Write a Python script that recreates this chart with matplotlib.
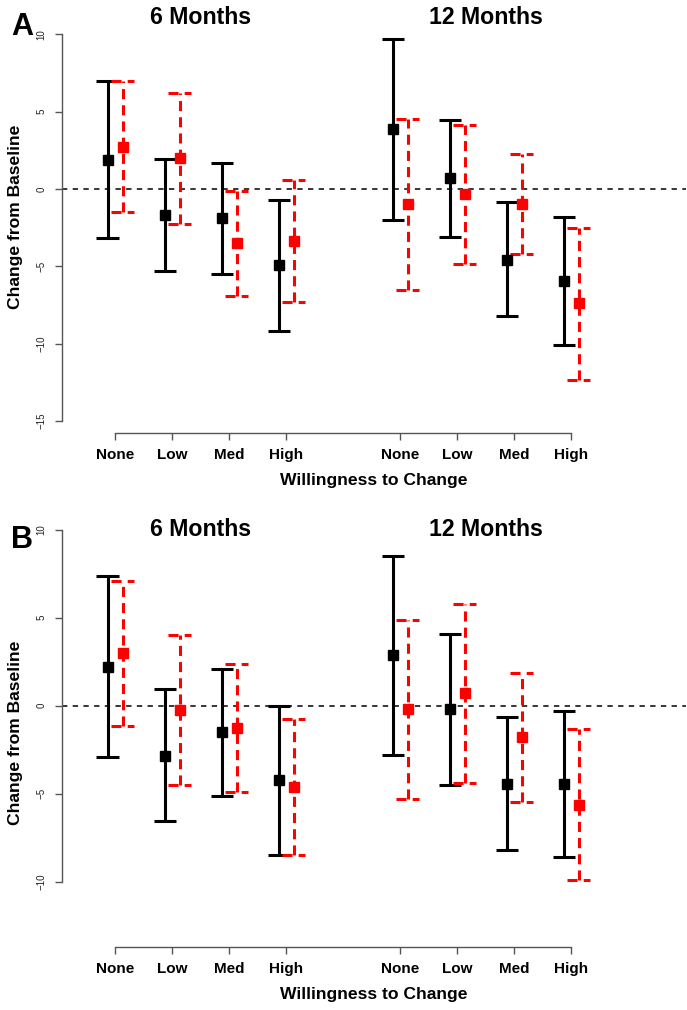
import matplotlib
matplotlib.use('Agg')
import matplotlib.pyplot as plt

plt.rcParams['font.family'] = ['Liberation Sans', 'DejaVu Sans']

groups = ['None', 'Low', 'Med', 'High', 'None', 'Low', 'Med', 'High']
periods = ['6 Months', '12 Months']

# panel A
a_black_mean = [1.87, -1.68, -1.90, -4.91, 3.86, 0.69, -4.59, -5.93]
a_black_lo = [-3.19, -5.28, -5.47, -9.16, -2.02, -3.08, -8.23, -10.08]
a_black_hi = [6.98, 1.92, 1.68, -0.71, 9.70, 4.46, -0.86, -1.79]
a_red_mean = [2.74, 1.98, -3.51, -3.34, -0.99, -0.32, -0.97, -7.39]
a_red_lo = [-1.47, -2.24, -6.92, -7.28, -6.51, -4.85, -4.20, -12.35]
a_red_hi = [7.00, 6.19, -0.11, 0.58, 4.50, 4.14, 2.26, -2.50]

# panel B
b_black_mean = [2.22, -2.84, -1.51, -4.22, 2.88, -0.21, -4.45, -4.45]
b_black_lo = [-2.90, -6.55, -5.13, -8.48, -2.78, -4.49, -8.22, -8.61]
b_black_hi = [7.35, 0.93, 2.10, 0.00, 8.52, 4.06, -0.66, -0.32]
b_red_mean = [2.98, -0.24, -1.29, -4.64, -0.21, 0.70, -1.80, -5.64]
b_red_lo = [-1.14, -4.49, -4.92, -8.48, -5.28, -4.37, -5.47, -9.92]
b_red_hi = [7.10, 4.02, 2.37, -0.77, 4.87, 5.76, 1.88, -1.34]

xpos = [1, 2, 3, 4, 6, 7, 8, 9]
off = 0.13
cap = 0.2
axcol = '#555555'
red_dash = (3.3, 2.0)

fig = plt.figure(figsize=(6.87, 10.10), dpi=100)
W, H = 687.0, 1010.0


def panel(rect, ylim, yticks, letter, letter_y, title_y, ylab_y,
          bm, blo, bhi, rm, rlo, rhi):
    ax = fig.add_axes(rect)
    ax.set_xlim(0.065, 11.01)
    ax.set_ylim(*ylim)
    ax.axhline(0, color='black', lw=1.1, dashes=(3.5, 3.5), zorder=1)
    for i, x in enumerate(xpos):
        xb = x - off
        ax.plot([xb, xb], [blo[i], bhi[i]], color='black', lw=2.2,
                solid_capstyle='butt', zorder=2)
        for yv in (blo[i], bhi[i]):
            ax.plot([xb - cap, xb + cap], [yv, yv], color='black', lw=2.2,
                    solid_capstyle='butt', zorder=2)
        ax.plot(xb, bm[i], 's', color='black', ms=7.2, zorder=3)
        xr = x + off
        ax.plot([xr, xr], [rlo[i], rhi[i]], color='red', lw=2.2,
                dashes=red_dash, zorder=2)
        for yv in (rlo[i], rhi[i]):
            ax.plot([xr - cap, xr + cap], [yv, yv], color='red', lw=2.2,
                    dashes=red_dash, zorder=2)
        ax.plot(xr, rm[i], 's', color='red', ms=7.2, zorder=3)

    for s in ['top', 'right']:
        ax.spines[s].set_visible(False)
    ax.spines['left'].set_bounds(yticks[0], yticks[-1])
    ax.spines['bottom'].set_bounds(1, 9)
    for s in ['left', 'bottom']:
        ax.spines[s].set_color(axcol)
        ax.spines[s].set_linewidth(1.0)
    ax.set_yticks(yticks)
    ax.set_yticklabels([str(v) if v >= 0 else '\u2212' + str(-v) for v in yticks],
                       rotation=90, va='center', fontsize=7, color='#222222')
    ax.set_xticks(xpos)
    ax.set_xticklabels(groups, fontsize=11, fontweight='bold')
    ax.tick_params(axis='y', length=5, width=1.0, color=axcol, pad=6)
    ax.tick_params(axis='x', length=5, width=1.0, color=axcol, pad=6)
    ax.set_xlabel('Willingness to Change', fontsize=12.6, fontweight='bold',
                  labelpad=8)

    fig.text(16 / W, 1 - ylab_y / H, 'Change from Baseline', rotation=90,
             ha='center', va='center', fontsize=12.6, fontweight='bold')
    fig.text(22 / W, 1 - letter_y / H, letter, ha='center', va='center',
             fontsize=22, fontweight='bold')
    for j, p in enumerate(periods):
        xc = 2.5 + 5 * j
        xf = (62 + (xc - 0.065) / (11.01 - 0.065) * 624) / W
        fig.text(xf, 1 - title_y / H, p, ha='center', va='center',
                 fontsize=16.7, fontweight='bold')
    return ax


panel([62 / W, 1 - 433 / H, 624 / W, (433 - 19) / H], (-15.78, 11.0),
      [-15, -10, -5, 0, 5, 10], 'A', 27, 17, 217,
      a_black_mean, a_black_lo, a_black_hi, a_red_mean, a_red_lo, a_red_hi)

panel([62 / W, 1 - 946.7 / H, 624 / W, (946.7 - 513.5) / H], (-13.7, 10.92),
      [-10, -5, 0, 5, 10], 'B', 540, 529, 733,
      b_black_mean, b_black_lo, b_black_hi, b_red_mean, b_red_lo, b_red_hi)

plt.savefig('out.png', dpi=100)
